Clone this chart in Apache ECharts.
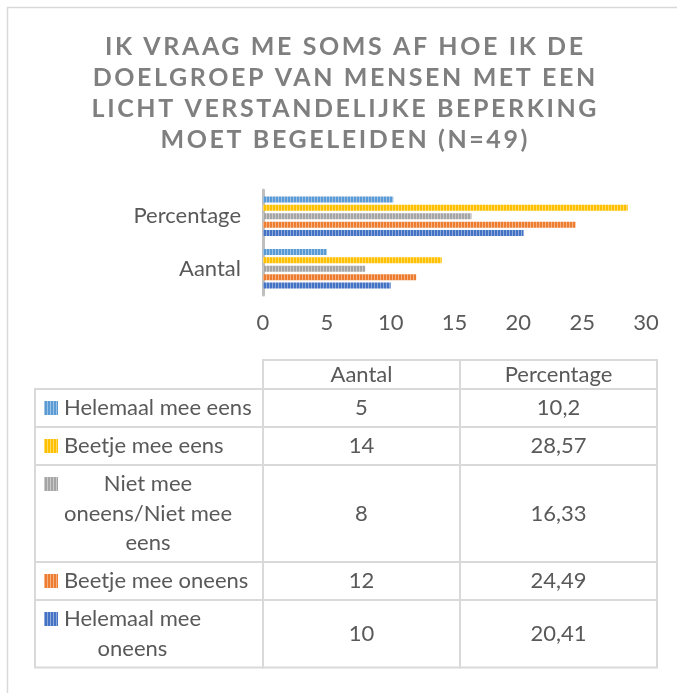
<!DOCTYPE html>
<html>
<head>
<meta charset="utf-8">
<script src="https://cdn.jsdelivr.net/npm/echarts@6/dist/echarts.min.js"></script>
<style>
html,body{margin:0;padding:0;background:#fff;}
#chart{width:677px;height:693px;}
</style>
</head>
<body>
<div id="chart"></div>
<script>
// ---- data ----
const categories = ['Aantal', 'Percentage'];
const seriesNames = ['Helemaal mee eens', 'Beetje mee eens', 'Niet mee oneens/Niet mee eens', 'Beetje mee oneens', 'Helemaal mee oneens'];
const aantalValues = [5, 14, 8, 12, 10];
const percentageValues = [10.2, 28.57, 16.33, 24.49, 20.41];
const aantalLabels = ['5', '14', '8', '12', '10'];
const percentageLabels = ['10,2', '28,57', '16,33', '24,49', '20,41'];
const xTicks = [0, 5, 10, 15, 20, 25, 30];
const titleText = 'IK VRAAG ME SOMS AF HOE IK DE\nDOELGROEP VAN MENSEN MET EEN\nLICHT VERSTANDELIJKE BEPERKING\nMOET BEGELEIDEN (N=49)';

// ---- styles ----
const seriesColors = ['#5b9bd5', '#ffc000', '#a5a5a5', '#ed7d31', '#4472c4'];
const FONT = 'Lato';
const TEXT_COLOR = '#595959';
const TITLE_SPACING = 2.6;

// letter spacing for the (bold) title text
(function () {
  const proto = CanvasRenderingContext2D.prototype;
  const orig = proto.fillText;
  proto.fillText = function (t, x, y, m) {
    if (this.font && /bold|700/.test(this.font) && ('letterSpacing' in this)) {
      const prev = this.letterSpacing;
      this.letterSpacing = TITLE_SPACING + 'px';
      const r = (m === undefined) ? orig.call(this, t, x, y) : orig.call(this, t, x, y, m);
      this.letterSpacing = prev;
      return r;
    }
    return (m === undefined) ? orig.call(this, t, x, y) : orig.call(this, t, x, y, m);
  };
})();

function stripe(color) {
  const c = document.createElement('canvas');
  c.width = 3; c.height = 2;
  const g = c.getContext('2d');
  g.fillStyle = color; g.fillRect(0, 0, 3, 2);
  g.fillStyle = 'rgba(255,255,255,0.4)'; g.fillRect(2, 0, 1, 2);
  return { image: c, repeat: 'repeat' };
}
const patterns = seriesColors.map(stripe);

// ---- table layout ----
const T = {
  left: 35, col1: 263, col2: 460, right: 657,
  top: 360, headerH: 29, rowBase: 38, lineH: 29.5,
  keyX: 44, keySize: 14, textX: 64, maxTextW: 195, fontSize: 22
};
const measureCtx = document.createElement('canvas').getContext('2d');
measureCtx.font = T.fontSize + 'px ' + FONT;
function wrap(text) {
  const words = text.split(' ');
  const lines = [];
  let cur = '';
  words.forEach(w => {
    const test = cur ? cur + ' ' + w : w;
    if (cur && measureCtx.measureText(test).width > T.maxTextW) { lines.push(cur); cur = w; }
    else cur = test;
  });
  if (cur) lines.push(cur);
  return lines;
}

function buildTable() {
  const els = [];
  const lineStyle = { fill: 'none', stroke: '#d9d9d9', lineWidth: 2 };
  const txt = (x, y, s, align) => ({
    type: 'text', x: x, y: y, silent: true,
    style: { text: s, fill: TEXT_COLOR, font: T.fontSize + 'px ' + FONT, align: align || 'center', verticalAlign: 'middle' }
  });
  // header
  els.push({ type: 'rect', shape: { x: T.col1, y: T.top, width: T.col2 - T.col1, height: T.headerH }, style: lineStyle });
  els.push({ type: 'rect', shape: { x: T.col2, y: T.top, width: T.right - T.col2, height: T.headerH }, style: lineStyle });
  els.push(txt((T.col1 + T.col2) / 2, T.top + T.headerH / 2, categories[0]));
  els.push(txt((T.col2 + T.right) / 2, T.top + T.headerH / 2, categories[1]));
  let y = T.top + T.headerH;
  seriesNames.forEach((name, i) => {
    const lines = wrap(name);
    const h = T.rowBase + (lines.length - 1) * T.lineH;
    els.push({ type: 'rect', shape: { x: T.left, y: y, width: T.col1 - T.left, height: h }, style: lineStyle });
    els.push({ type: 'rect', shape: { x: T.col1, y: y, width: T.col2 - T.col1, height: h }, style: lineStyle });
    els.push({ type: 'rect', shape: { x: T.col2, y: y, width: T.right - T.col2, height: h }, style: lineStyle });
    const firstY = y + h / 2 - (lines.length - 1) * T.lineH / 2;
    els.push({ type: 'rect', shape: { x: T.keyX, y: firstY - T.keySize / 2, width: T.keySize, height: T.keySize }, style: { fill: patterns[i] } });
    if (lines.length === 1) {
      els.push(txt(T.textX, firstY, lines[0], 'left'));
    } else {
      const bw = Math.max.apply(null, lines.map(l => measureCtx.measureText(l).width));
      lines.forEach((l, k) => els.push(txt(T.textX + bw / 2, firstY + k * T.lineH, l, 'center')));
    }
    els.push(txt((T.col1 + T.col2) / 2, y + h / 2, aantalLabels[i]));
    els.push(txt((T.col2 + T.right) / 2, y + h / 2, percentageLabels[i]));
    y += h;
  });
  return els;
}

const chart = echarts.init(document.getElementById('chart'), null, { renderer: 'canvas' });
const option = {
  backgroundColor: '#ffffff',
  animation: false,
  textStyle: { fontFamily: FONT },
  title: {
    text: titleText,
    left: 344 + TITLE_SPACING / 2,
    textAlign: 'center',
    top: 31,
    padding: 0,
    textStyle: { fontFamily: FONT, fontWeight: 'bold', fontSize: 25, lineHeight: 31, color: '#7f7f7f' }
  },
  grid: { left: 263, top: 190, width: 383, height: 105, containLabel: false },
  xAxis: {
    type: 'value', min: xTicks[0], max: xTicks[xTicks.length - 1], interval: xTicks[1] - xTicks[0],
    axisLine: { show: false }, axisTick: { show: false }, splitLine: { show: false },
    axisLabel: { color: TEXT_COLOR, fontFamily: FONT, fontSize: 22, margin: 17 }
  },
  yAxis: {
    type: 'category', data: categories,
    axisLine: { show: true, lineStyle: { color: '#bfbfbf', width: 3 } },
    axisTick: { show: false },
    axisLabel: { color: TEXT_COLOR, fontFamily: FONT, fontSize: 22, margin: 22 }
  },
  series: seriesNames.map((name, i) => ({
    name: name,
    type: 'bar',
    data: [aantalValues[i], percentageValues[i]],
    barWidth: 6,
    barGap: '40%',
    itemStyle: { color: patterns[i] }
  })),
  graphic: [
    { type: 'rect', shape: { x: 7.5, y: 7.5, width: 720, height: 720 }, style: { fill: 'none', stroke: '#d9d9d9', lineWidth: 1.5 }, silent: true, z: 100 }
  ].concat(buildTable())
};
chart.setOption(option);
</script>
</body>
</html>
